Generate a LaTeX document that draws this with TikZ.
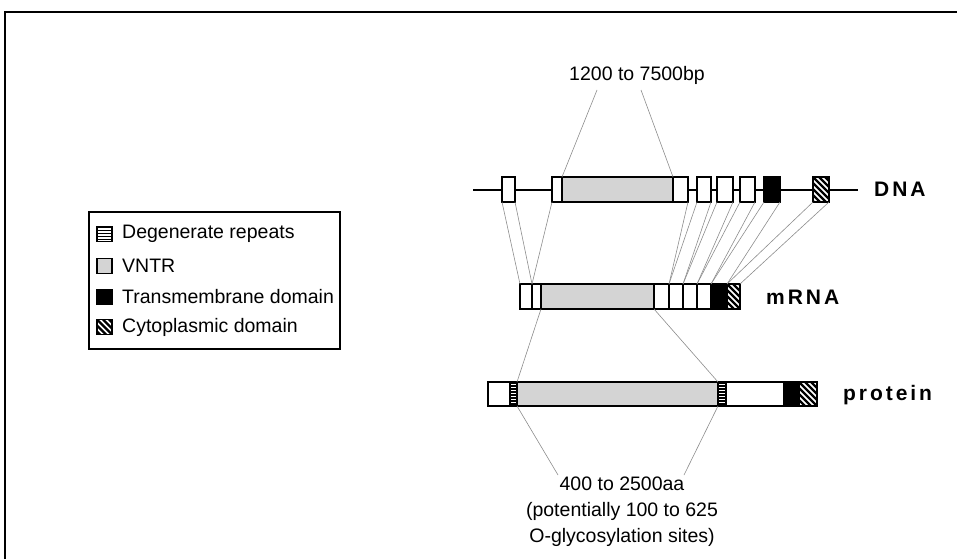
\documentclass[tikz,border=0pt]{standalone}
\usepackage{fontspec}
\setmainfont{Liberation Sans}
\newfontfamily\trackfont[LetterSpace=14]{Liberation Sans}
\usetikzlibrary{calc}
\definecolor{vntrgray}{HTML}{D4D4D4}
\definecolor{linkgray}{HTML}{8C8C8C}

\tikzset{
  seg/.style={draw,fill=white,line width=1.3pt,inner sep=0pt,outer sep=0pt,
    anchor=north west,minimum height=25pt},
  key/.style={draw,fill=white,line width=1.5pt,inner sep=0pt,outer sep=0pt,
    anchor=west,minimum size=15pt},
  whitefill/.style={fill=white},
  vntrfill/.style={fill=vntrgray},
  tmfill/.style={fill=black},
  cytofill/.style={path picture={
      \foreach \k in {-7,...,4}
        \draw[line width=2.2pt] ($(path picture bounding box.north west)+(\k*6pt,0pt)$) -- ++(34pt,-34pt);}},
  degenfill/.style={path picture={
      \foreach \k in {0,...,9}
        \draw[line width=1.8pt] ($(path picture bounding box.north west)+(0pt,-\k*3pt-1pt)$) -- ++(30pt,0pt);}},
  link/.style={draw=linkgray,line width=0.6pt},
  lab/.style={font=\fontsize{19.5}{26}\selectfont,inner sep=0pt},
  tag/.style={font=\trackfont\bfseries\fontsize{21}{24}\selectfont,anchor=west,inner sep=0pt},
}

\begin{document}
\begin{tikzpicture}[x=1pt,y=-1pt]
  \useasboundingbox (0,0) rectangle (957,559);
  \draw[line width=2pt] (5,559) -- (5,12) -- (957,12);

  % legend
  \node[draw,line width=1.3pt,inner sep=0pt,outer sep=0pt,anchor=north west,
    minimum width=251pt,minimum height=137pt] (legend) at (89,212) {};
  \foreach \sty/\txt/\y [count=\i] in {degenfill/Degenerate repeats/234,
      vntrfill/VNTR/266, tmfill/Transmembrane domain/297, cytofill/Cytoplasmic domain/327} {
    \node[key,\sty] (key\i) at (97,\y) {};
    \node[lab,anchor=west] (keytxt\i) at (122,\y) {\txt};
  }

  % DNA
  \coordinate (dnastart) at (473,190);
  \coordinate (dnaend) at (858,190);
  \draw[line width=1.3pt] (dnastart) -- (dnaend);
  \foreach \nm/\x/\w/\sty in {d1/502/13/whitefill, d2a/552/10/whitefill, d2b/562/111/vntrfill,
      d2c/673/15/whitefill, d3/697/14/whitefill, d4/717/16/whitefill, d5/740/15/whitefill,
      d6/764/16/tmfill, d7/813/16/cytofill}
    \node[seg,\sty,minimum width=\w pt] (\nm) at (\x,177) {};
  \node[tag] (dnalab) at (874,189) {DNA};

  % mRNA
  \foreach \nm/\x/\w/\sty in {m1/520/12/whitefill, m2/532/9/whitefill, m3/541/113/vntrfill,
      m4/654/15/whitefill, m5/669/14/whitefill, m6/683/14/whitefill, m7/697/14/whitefill,
      m8/711/16/tmfill, m9/727/13/cytofill}
    \node[seg,\sty,minimum width=\w pt] (\nm) at (\x,284) {};
  \node[tag] (mrnalab) at (766,297) {mRNA};

  % protein
  \foreach \nm/\x/\w/\sty in {p1/488/22/whitefill, p2/510/7/degenfill, p3/517/201/vntrfill,
      p4/718/8/degenfill, p5/726/58/whitefill, p6/784/15/tmfill, p7/799/18/cytofill}
    \node[seg,\sty,minimum width=\w pt,minimum height=24pt] (\nm) at (\x,382) {};
  \node[tag] (protlab) at (843,395) {protein};

  % sizes
  \node[lab] (bp) at (637,75) {1200 to 7500bp};
  \coordinate (bpl) at (597,90);
  \coordinate (bpr) at (641,90);
  \node[lab,align=center] (aa) at (622,512) {400 to 2500aa\\(potentially 100 to 625\\O-glycosylation sites)};
  \coordinate (aal) at (558,475);
  \coordinate (aar) at (684,475);

  % splicing lines
  \draw[link] (bpl) -- (d2b.north west);
  \draw[link] (bpr) -- (d2b.north east);
  \draw[link] (d1.south west) -- (m1.north west);
  \draw[link] (d1.south east) -- (m2.north west);
  \draw[link] (d2a.south west) -- (m2.north west);
  \draw[link] (d2c.south east) -- (m5.north west);
  \draw[link] (d3.south west) -- (m5.north west);
  \draw[link] (d3.south east) -- (m6.north west);
  \draw[link] (d4.south west) -- (m6.north west);
  \draw[link] (d4.south east) -- (m7.north west);
  \draw[link] (d5.south west) -- (m7.north west);
  \draw[link] (d5.south east) -- (m8.north west);
  \draw[link] (d6.south west) -- (m8.north west);
  \draw[link] (d6.south east) -- (m9.north west);
  \draw[link] (d7.south west) -- (m9.north west);
  \draw[link] (d7.south east) -- (m9.north east);
  \draw[link] (m3.south west) -- (p3.north west);
  \draw[link] (m3.south east) -- (p3.north east);
  \draw[link] (p3.south west) -- (aal);
  \draw[link] (p3.south east) -- (aar);
\end{tikzpicture}
\end{document}
